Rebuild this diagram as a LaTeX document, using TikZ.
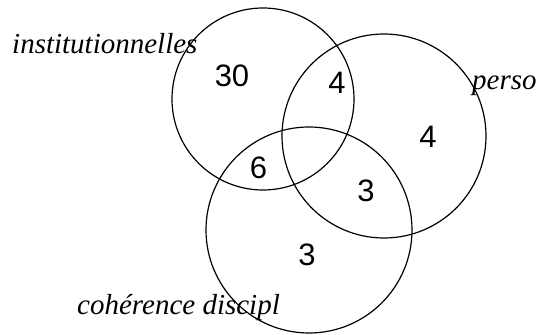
\documentclass[tikz,border=0pt]{standalone}
\usepackage{fontspec}
\setmainfont{Liberation Serif}
\newfontfamily\numfont{Liberation Sans}
\begin{document}
\begin{tikzpicture}[x=1pt,y=1pt,
  venn/.style={draw=black, line width=1.2pt, circle, inner sep=0pt},
  setlabel/.style={anchor=base west, inner sep=0pt, font=\fontsize{29}{32}\selectfont\itshape},
  count/.style={anchor=center, inner sep=0pt, font=\fontsize{31}{34}\selectfont\numfont}]
\useasboundingbox (0,0) rectangle (539,335);
\node[venn, minimum size=182pt] (inst) at (263,236) {};
\node[venn, minimum size=204pt] (perso) at (384,199) {};
\node[venn, minimum size=206pt] (coh) at (309,105) {};
\node[setlabel] (linst) at (12,281) {institutionnelles};
\node[setlabel] (lperso) at (472,245) {perso};
\node[setlabel] (lcoh) at (77,20) {cohérence discipl};
\node[count] (n30) at (232,259) {30};
\node[count] (n4a) at (337,252) {4};
\node[count] (n4b) at (428,198) {4};
\node[count] (n6) at (258.5,167) {6};
\node[count] (n3a) at (366,144) {3};
\node[count] (n3b) at (307,80) {3};
\end{tikzpicture}
\end{document}
